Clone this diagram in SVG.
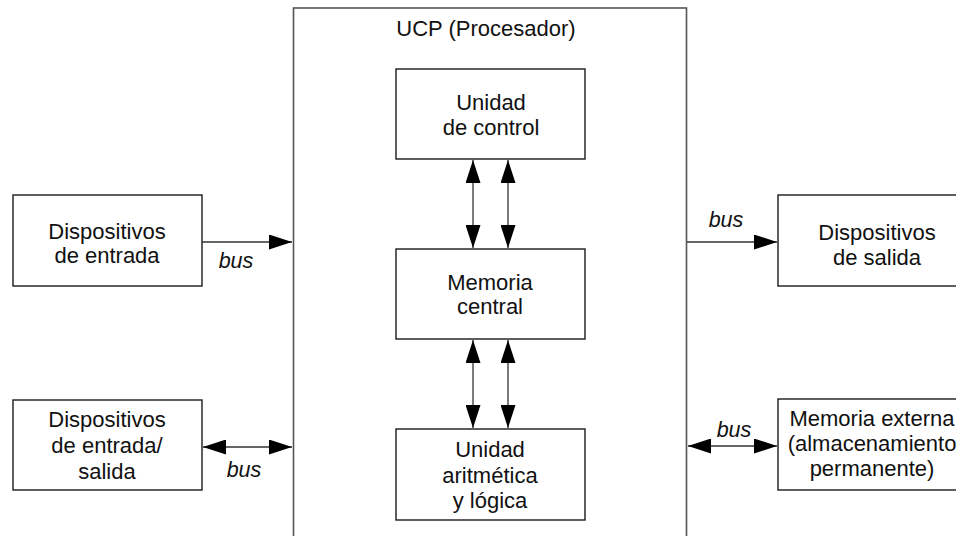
<svg xmlns="http://www.w3.org/2000/svg" width="956" height="536" viewBox="0 0 956 536">
<style>
.box{fill:#fff;stroke:#1a1a1a;stroke-width:1.4}
.ucp{fill:#fff;stroke:#555;stroke-width:1.6}
.t{font-family:"Liberation Sans",Arial,sans-serif;font-size:22px;fill:#111;text-anchor:middle}
.bus{font-family:"Liberation Sans",Arial,sans-serif;font-size:21.5px;font-style:italic;fill:#111;text-anchor:middle}
.c{stroke:#333;stroke-width:1.3;fill:none}
</style>
<defs>
<marker id="ah" markerUnits="userSpaceOnUse" markerWidth="23" markerHeight="15" refX="23" refY="7.5" orient="auto-start-reverse">
<path d="M0,0 L23,7.5 L0,15 z" fill="#000"/>
</marker>
</defs>
<rect width="956" height="536" fill="#fff"/>
<g id="ucp">
<rect class="ucp" x="293.5" y="8" width="393" height="560"/>
<text class="t" x="486" y="36">UCP (Procesador)</text>
</g>
<g id="control">
<rect class="box" x="396" y="69" width="189" height="90"/>
<text class="t" x="491" y="110">Unidad</text>
<text class="t" x="491" y="135">de control</text>
</g>
<g id="memoria-central">
<rect class="box" x="396" y="249" width="189" height="90"/>
<text class="t" x="490" y="290">Memoria</text>
<text class="t" x="490" y="314">central</text>
</g>
<g id="alu">
<rect class="box" x="396" y="429" width="189" height="91"/>
<text class="t" x="490" y="457">Unidad</text>
<text class="t" x="490" y="483">aritmética</text>
<text class="t" x="490" y="508">y lógica</text>
</g>
<g id="entrada">
<rect class="box" x="13" y="195" width="189" height="91"/>
<text class="t" x="107" y="239">Dispositivos</text>
<text class="t" x="107" y="263">de entrada</text>
</g>
<g id="entrada-salida">
<rect class="box" x="13" y="400" width="189" height="90"/>
<text class="t" x="107" y="427">Dispositivos</text>
<text class="t" x="107" y="453">de entrada/</text>
<text class="t" x="107" y="479">salida</text>
</g>
<g id="salida">
<rect class="box" x="778" y="195" width="200" height="91"/>
<text class="t" x="877" y="240">Dispositivos</text>
<text class="t" x="877" y="265">de salida</text>
</g>
<g id="memoria-externa">
<rect class="box" x="778" y="399" width="200" height="91"/>
<text class="t" x="872" y="426">Memoria externa</text>
<text class="t" x="872" y="451">(almacenamiento</text>
<text class="t" x="872" y="476">permanente)</text>
</g>
<g id="connectors">
<line class="c" x1="202" y1="242" x2="292" y2="242" marker-end="url(#ah)"/>
<line class="c" x1="203" y1="447" x2="292" y2="447" marker-start="url(#ah)" marker-end="url(#ah)"/>
<line class="c" x1="687" y1="242" x2="777" y2="242" marker-end="url(#ah)"/>
<line class="c" x1="688" y1="446" x2="777" y2="446" marker-start="url(#ah)" marker-end="url(#ah)"/>
<line class="c" x1="473" y1="160" x2="473" y2="248" marker-start="url(#ah)" marker-end="url(#ah)"/>
<line class="c" x1="508" y1="160" x2="508" y2="248" marker-start="url(#ah)" marker-end="url(#ah)"/>
<line class="c" x1="473" y1="340" x2="473" y2="428" marker-start="url(#ah)" marker-end="url(#ah)"/>
<line class="c" x1="508" y1="340" x2="508" y2="428" marker-start="url(#ah)" marker-end="url(#ah)"/>
<text class="bus" x="236" y="268">bus</text>
<text class="bus" x="244" y="477">bus</text>
<text class="bus" x="726" y="227">bus</text>
<text class="bus" x="734" y="437">bus</text>
</g>
</svg>
